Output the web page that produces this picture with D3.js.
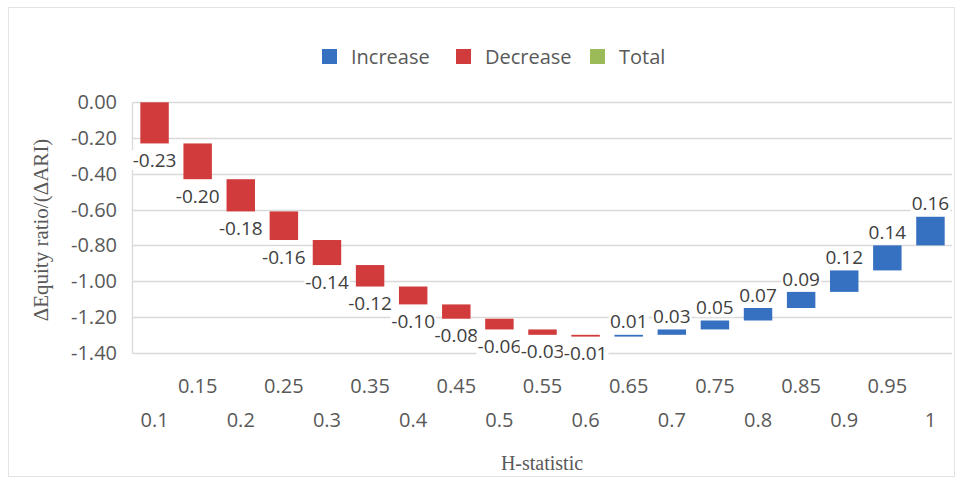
<!DOCTYPE html>
<html>
<head>
<meta charset="utf-8">
<script src="https://cdn.jsdelivr.net/npm/d3@7"></script>
<style>
  html, body { margin: 0; padding: 0; background: #fff; }
  svg { display: block; }
</style>
</head>
<body>
<svg id="chart" width="961" height="483"></svg>
<script>
// H-statistic steps and the change in equity ratio at each step
const categories = ["0.1","0.15","0.2","0.25","0.3","0.35","0.4","0.45","0.5","0.55",
                    "0.6","0.65","0.7","0.75","0.8","0.85","0.9","0.95","1"];
const changes = [-0.23,-0.20,-0.18,-0.16,-0.14,-0.12,-0.10,-0.08,-0.06,-0.03,
                 -0.01,0.01,0.03,0.05,0.07,0.09,0.12,0.14,0.16];
const yTicks = [0,-0.2,-0.4,-0.6,-0.8,-1.0,-1.2,-1.4];
const legendItems = ["Increase","Decrease","Total"];

const colors = { Increase: "#3671c1", Decrease: "#d13b3c", Total: "#9bbb59" };
const textColor = "#595959";
const font = "'Open Sans', 'Noto Sans', sans-serif";
const serif = "'Liberation Serif', 'DejaVu Serif', serif";

const svg = d3.select("#chart");

// Running totals for the waterfall
let run = 0;
const steps = changes.map((v, i) => {
  const start = run;
  run += v;
  return { cat: categories[i], value: v, start, end: run };
});

const plot = { left: 133, right: 952, top: 102.3, bottom: 352.7 };

const x = d3.scaleBand().domain(categories)
  .range([plot.left, plot.right]).paddingInner(0.34).paddingOuter(0.17);
const y = d3.scaleLinear().domain([0, -1.4]).range([plot.top, plot.bottom]);

// ASCII hyphen for negative numbers
const fmt = v => d3.format(".2f")(v).replace("\u2212", "-");

// Outer frame
svg.append("rect")
  .attr("x", 8.5).attr("y", 7.5).attr("width", 946).attr("height", 469)
  .attr("fill", "none").attr("stroke", "#e3e3e3").attr("stroke-width", 1);

// Gridlines
svg.append("g").selectAll("line").data(yTicks).join("line")
  .attr("x1", plot.left).attr("x2", plot.right)
  .attr("y1", d => Math.round(y(d)) + 0.5).attr("y2", d => Math.round(y(d)) + 0.5)
  .attr("stroke", "#d9d9d9").attr("stroke-width", 1.3);

// Left axis line
svg.append("line")
  .attr("x1", plot.left - 0.5).attr("x2", plot.left - 0.5)
  .attr("y1", y(0)).attr("y2", y(-1.4) + 1)
  .attr("stroke", "#d9d9d9").attr("stroke-width", 1.3);

// Y tick labels
const yAxis = d3.axisLeft(y).tickValues(yTicks).tickSize(0).tickPadding(16)
  .tickFormat(fmt);
const yg = svg.append("g").attr("transform", `translate(${plot.left},0)`).call(yAxis);
yg.select(".domain").remove();
yg.selectAll("text").attr("font-family", font).attr("font-size", 20)
  .attr("fill", textColor);

// X tick labels, alternating between two rows
const xg = svg.append("g");
xg.selectAll("text").data(categories).join("text")
  .attr("x", d => x(d) + x.bandwidth() / 2)
  .attr("y", (d, i) => i % 2 === 0 ? 420 : 386)
  .attr("dy", "0.35em")
  .attr("text-anchor", "middle")
  .attr("font-family", font).attr("font-size", 20).attr("fill", textColor)
  .text(d => d);

// Waterfall bars
const barTop = d => Math.min(y(d.start), y(d.end));
const barH = d => Math.max(Math.abs(y(d.end) - y(d.start)), 1.2);
svg.append("g").selectAll("rect").data(steps).join("rect")
  .attr("x", d => x(d.cat))
  .attr("y", barTop)
  .attr("width", x.bandwidth())
  .attr("height", barH)
  .attr("fill", d => d.value < 0 ? colors.Decrease : colors.Increase);

// Value labels: below the end of decreases, above the end of increases
const labels = svg.append("g").selectAll("g").data(steps).join("g")
  .attr("transform", d => {
    const cx = x(d.cat) + x.bandwidth() / 2;
    const cy = d.value < 0 ? y(d.end) + 17 : y(d.end) - 13;
    return `translate(${cx},${cy})`;
  });
labels.append("text")
  .attr("text-anchor", "middle").attr("dy", "0.35em")
  .attr("font-family", font).attr("font-size", 19).attr("fill", "#404040")
  .text(d => fmt(d.value));
labels.each(function () {
  const g = d3.select(this);
  const bb = g.select("text").node().getBBox();
  g.insert("rect", "text")
    .attr("x", bb.x - 1).attr("y", bb.y + 3)
    .attr("width", bb.width + 2).attr("height", bb.height - 6)
    .attr("fill", "#fff");
});

// Legend
const legend = svg.append("g").attr("transform", "translate(322,57)");
const legendX = [0, 134, 268];
const li = legend.selectAll("g").data(legendItems).join("g")
  .attr("transform", (d, i) => `translate(${legendX[i]},0)`);
li.append("rect").attr("x", 0).attr("y", -8).attr("width", 15).attr("height", 15)
  .attr("fill", d => colors[d]);
li.append("text").attr("x", 29).attr("y", 0).attr("dy", "0.35em")
  .attr("font-family", font).attr("font-size", 20).attr("fill", textColor)
  .text(d => d);

// Axis titles
svg.append("text")
  .attr("transform", "translate(41,230) rotate(-90)")
  .attr("text-anchor", "middle").attr("dy", "0.35em")
  .attr("font-family", serif).attr("font-size", 21).attr("fill", textColor)
  .text("ΔEquity ratio/(ΔARI)");
svg.append("text")
  .attr("x", 542).attr("y", 463)
  .attr("text-anchor", "middle").attr("dy", "0.35em")
  .attr("font-family", serif).attr("font-size", 20).attr("fill", textColor)
  .text("H-statistic");
</script>
</body>
</html>
